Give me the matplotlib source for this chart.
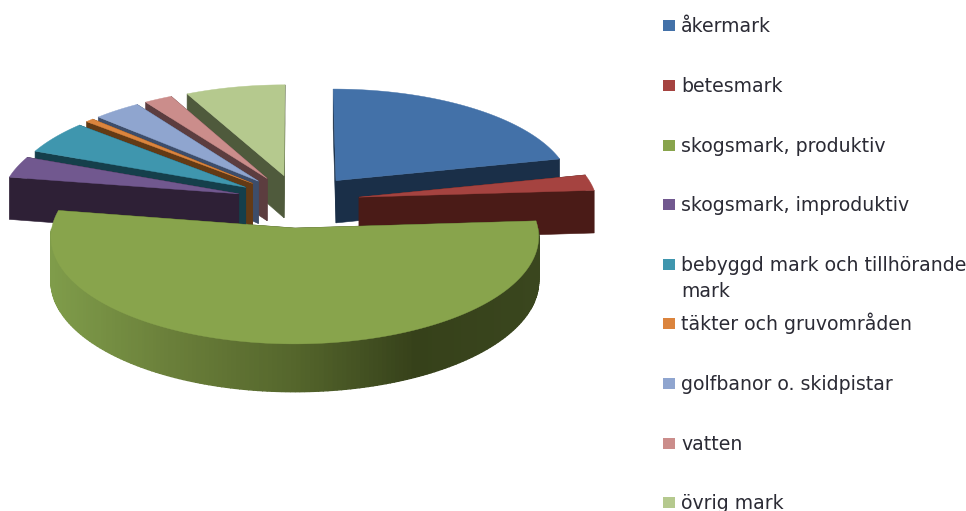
"""Exploded 3D pie of Swedish land use, drawn by hand as projected polygons."""
import numpy as np
import matplotlib
matplotlib.use("Agg")
import matplotlib.pyplot as plt
from matplotlib.colors import LinearSegmentedColormap
from matplotlib.patches import Polygon, Rectangle

labels = ["åkermark", "betesmark", "skogsmark, produktiv", "skogsmark, improduktiv",
          "bebyggd mark och tillhörande\nmark", "täkter och gruvområden",
          "golfbanor o. skidpistar", "vatten", "övrig mark"]
shares = [21.4, 2.5, 53.7, 3.4, 5.3, 0.6, 3.5, 2.1, 7.4]

top_colors = ["#4371a8", "#a54340", "#88a44c", "#71588f", "#3f96ae",
              "#db843d", "#8fa5cf", "#cb8d8b", "#b5c98e"]
wall_colors = ["#1a2f48", "#4a1b17", "#354019", "#2e2036", "#153f4b",
               "#633a15", "#3d4d6a", "#5c3d3f", "#4f5a3c"]
# shading of the round front wall, left to right
front_wall = LinearSegmentedColormap.from_list(
    "front", ["#7f9c4a", "#6a7f3a", "#55662c", "#36411a", "#3a461e"])

# projection, in pixels
CX, CY = 298, 201
RX, RY = 238, 102
DEPTH = 43
PERSP = 0.08
EXPLODE = 0.26


def project(x, y, z=0.0):
    w = 1.0 / (1.0 - PERSP * y)
    return np.column_stack([CX + RX * x * w, CY + RY * y * w + DEPTH * z * w])


def zo(mid):
    # painter's order: far slices first
    return 2 - np.cos(mid)


def draw_slice(ax, a0, a1, top, wall):
    """angles clockwise from 12 o'clock, in radians."""
    mid = (a0 + a1) / 2
    ox, oy = EXPLODE * np.sin(mid), -EXPLODE * np.cos(mid)
    th = np.linspace(a0, a1, max(3, int(np.degrees(a1 - a0))))
    rx, ry = ox + np.sin(th), oy - np.cos(th)

    # radial walls
    for a in (a0, a1):
        ex, ey = ox + np.sin(a), oy - np.cos(a)
        q = np.vstack([project(np.array([ox, ex]), np.array([oy, ey])),
                       project(np.array([ex, ox]), np.array([ey, oy]), 1.0)])
        ax.add_patch(Polygon(q, fc=wall, ec=wall, lw=0.4, zorder=zo(mid)))

    # outer wall, only the part turned to the viewer
    front = (th > np.pi / 2) & (th < 3 * np.pi / 2)
    if front.sum() > 1:
        fx, fy = rx[front], ry[front]
        up, down = project(fx, fy), project(fx, fy, 1.0)
        lo, hi = up[:, 0].min(), up[:, 0].max()
        for i in range(len(fx) - 1):
            q = np.vstack([up[i:i + 2], down[i:i + 2][::-1]])
            c = front_wall((up[i, 0] - lo) / (hi - lo))
            ax.add_patch(Polygon(q, fc=c, ec=c, lw=1.0, zorder=zo(mid)))

    outline = np.vstack([project(np.array([ox]), np.array([oy])), project(rx, ry)])
    ax.add_patch(Polygon(outline, fc=top, ec=top, lw=0.3, zorder=zo(mid) + 0.5))


fig = plt.figure(figsize=(9.66, 5.11), dpi=100)
ax = fig.add_axes([0, 0, 1, 1])
ax.set_xlim(0, 966)
ax.set_ylim(511, 0)
ax.axis("off")

edges = np.radians(np.concatenate([[0], np.cumsum(shares)]) / np.sum(shares) * 360)
for i in range(len(shares)):
    draw_slice(ax, edges[i], edges[i + 1], top_colors[i], wall_colors[i])

# legend, one text per line so each baseline sits where it should
for i, lab in enumerate(labels):
    y = 26 + 59.6 * i
    ax.add_patch(Rectangle((663, y - 5.5), 12, 11, fc=top_colors[i], ec="none"))
    for k, line in enumerate(lab.split("\n")):
        ax.text(681, y + 6.5 + 26 * k, line, fontsize=13.6, family="DejaVu Sans",
                color="#2b2b35", va="baseline", ha="left")

fig.savefig("out.png", dpi=100)
